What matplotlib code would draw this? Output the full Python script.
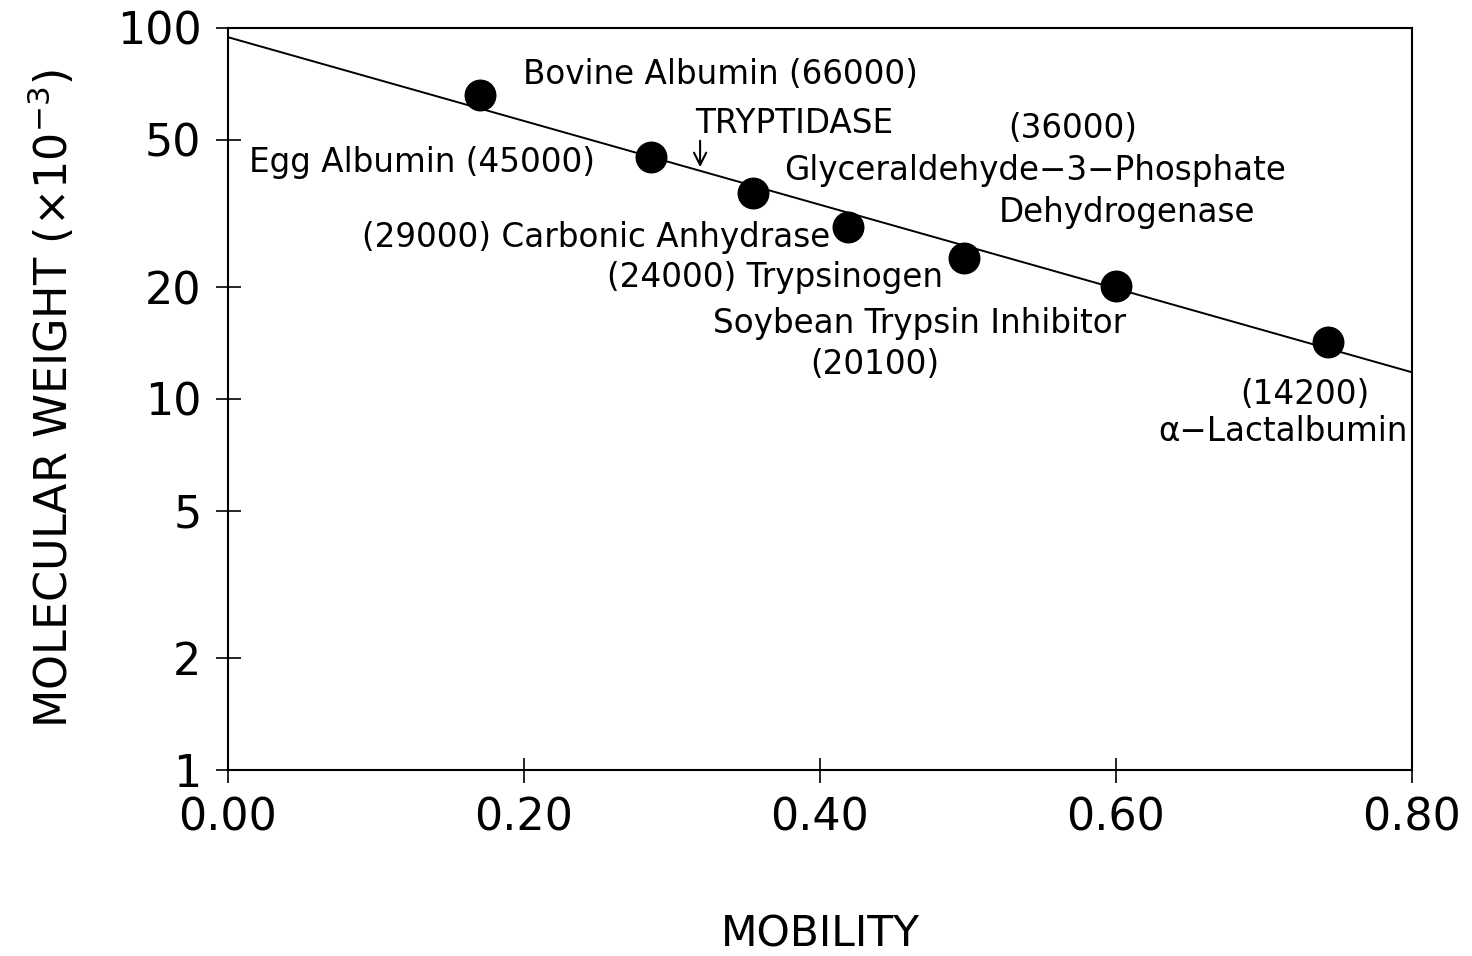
import numpy as np
import matplotlib
matplotlib.use('Agg')
import matplotlib.pyplot as plt
from matplotlib.ticker import FixedLocator, FixedFormatter, NullLocator

# standard proteins: mobility vs molecular weight (x10^-3)
proteins = ['Bovine Albumin', 'Egg Albumin', 'Glyceraldehyde-3-Phosphate Dehydrogenase',
            'Carbonic Anhydrase', 'Trypsinogen', 'Soybean Trypsin Inhibitor', 'alpha-Lactalbumin']
mobility = [0.170, 0.286, 0.355, 0.419, 0.497, 0.600, 0.743]
mw = [66.0, 45.0, 36.0, 29.0, 24.0, 20.1, 14.2]

# fitted calibration line (ends of the drawn line)
fit_x = [0.0, 0.80]
fit_y = [94.4, 11.8]

# tryptidase position on the line
tryptidase_x = 0.319

xticks = [0.0, 0.2, 0.4, 0.6, 0.8]
xticklabels = ['0.00', '0.20', '0.40', '0.60', '0.80']
yticks = [1, 2, 5, 10, 20, 50, 100]
yticklabels = ['1', '2', '5', '10', '20', '50', '100']

plt.rcParams['font.family'] = ['DejaVu Sans']
plt.rcParams['mathtext.fontset'] = 'dejavusans'

fig = plt.figure(figsize=(14.72, 9.56), dpi=100)
ax = fig.add_axes([0.1549, 0.1946, 0.8043, 0.7762])

ax.plot(fit_x, fit_y, color='black', lw=1.4, zorder=2)
ax.plot(mobility, mw, linestyle='none', marker='o', markersize=22,
        color='black', zorder=3)

ax.set_yscale('log')
ax.set_xlim(0, 0.8)
ax.set_ylim(1, 100)

ax.xaxis.set_major_locator(FixedLocator(xticks))
ax.xaxis.set_major_formatter(FixedFormatter(xticklabels))
ax.yaxis.set_major_locator(FixedLocator(yticks))
ax.yaxis.set_major_formatter(FixedFormatter(yticklabels))
ax.yaxis.set_minor_locator(NullLocator())
ax.xaxis.set_minor_locator(NullLocator())
ax.tick_params(direction='inout', length=18, width=1.2, labelsize=32, pad=10)

for sp in ax.spines.values():
    sp.set_linewidth(1.5)

ax.set_xlabel('MOBILITY', fontsize=30.5)
ax.xaxis.set_label_coords(0.5, -0.222)
ax.xaxis.label.set_verticalalignment('center')
ax.set_ylabel('MOLECULAR WEIGHT (×10$^{-3}$)', fontsize=32)
ax.yaxis.set_label_coords(-0.149, 0.5)
ax.yaxis.label.set_verticalalignment('center')

fs = 23.5
ax.text(0.199, 74.7, 'Bovine Albumin (66000)', fontsize=fs, ha='left', va='center')
ax.text(0.0142, 43.5, 'Egg Albumin (45000)', fontsize=fs, ha='left', va='center')
ax.text(0.3155, 55.1, 'TRYPTIDASE', fontsize=fs, ha='left', va='center')
ax.annotate('', xy=(tryptidase_x, 41.4), xytext=(tryptidase_x, 50.5),
            arrowprops=dict(arrowstyle='->', color='black', lw=1.5,
                            mutation_scale=22))
ax.text(0.571, 53.7, '(36000)', fontsize=fs, ha='center', va='center')
ax.text(0.5453, 41.2, 'Glyceraldehyde−3−Phosphate', fontsize=fs, ha='center', va='center')
ax.text(0.6074, 31.9, 'Dehydrogenase', fontsize=fs, ha='center', va='center')
ax.text(0.4068, 27.3, '(29000) Carbonic Anhydrase', fontsize=fs, ha='right', va='center')
ax.text(0.4831, 21.3, '(24000) Trypsinogen', fontsize=fs, ha='right', va='center')
ax.text(0.467, 16.0, 'Soybean Trypsin Inhibitor', fontsize=fs, ha='center', va='center')
ax.text(0.437, 12.4, '(20100)', fontsize=fs, ha='center', va='center')
ax.text(0.7277, 10.25, '(14200)', fontsize=fs, ha='center', va='center')
ax.text(0.797, 8.15, 'α−Lactalbumin', fontsize=fs, ha='right', va='center')

fig.savefig('out.png', dpi=100)
